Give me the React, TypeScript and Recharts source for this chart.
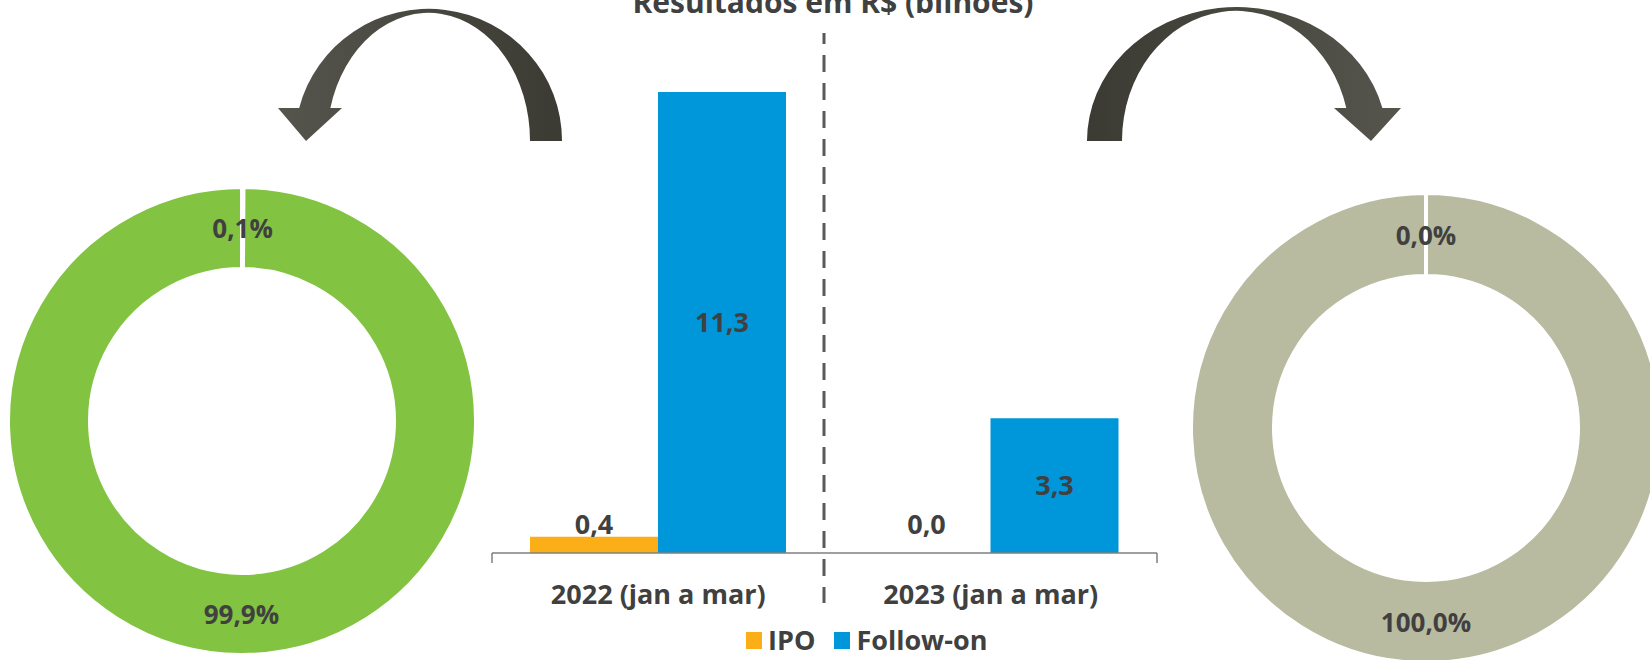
import React from 'react';
import { BarChart, Bar, XAxis, YAxis, LabelList, Legend, PieChart, Pie, Cell } from 'recharts';

// data
const categories = ['2022 (jan a mar)', '2023 (jan a mar)'];
const seriesNames = ['IPO', 'Follow-on'];
const ipoValues = [0.4, 0.0];
const followOnValues = [11.3, 3.3];
const share2022 = [0.1, 99.9]; // IPO, Follow-on (%)
const share2023 = [0.0, 100.0];

const barData = categories.map((cat, i) => ({ cat, ipo: ipoValues[i], followOn: followOnValues[i] }));
const pie2022 = seriesNames.map((name, i) => ({ name, value: share2022[i] }));
const pie2023 = seriesNames.map((name, i) => ({ name, value: share2023[i] }));

const FONT = "'Open Sans', 'Noto Sans', sans-serif";
const TEXT = '#404040';
const IPO_COLOR = '#FBAE17';
const FOLLOW_COLOR = '#0096DA';
const GREEN = '#82C341';
const KHAKI = '#B8BBA0';

const fmt = (v: number) => Number(v).toFixed(1).replace('.', ',');
const RAD = Math.PI / 180;

function donutLabel(p: any) {
  const { cx, cy, midAngle, innerRadius, outerRadius, value } = p;
  const r = (innerRadius + outerRadius) / 2;
  const x = cx + r * Math.cos(-midAngle * RAD);
  const y = cy + r * Math.sin(-midAngle * RAD);
  return (
    <text x={x} y={y} textAnchor="middle" dominantBaseline="central" fill={TEXT}
      fontSize={26} fontWeight={700} fontFamily={FONT}>
      {fmt(value)}%
    </text>
  );
}

// IPO values are drawn from the Follow-on bar's label list (the IPO bar sits right
// beside it, barGap 0), because a zero-height IPO bar gets no label of its own
function ipoLabel(p: any) {
  const vb = p.viewBox || p;
  const x = vb.x ?? p.x;
  const y = vb.y ?? p.y;
  const width = vb.width ?? p.width ?? 0;
  const height = vb.height ?? p.height ?? 0;
  return (
    <text x={x - width / 2} y={y + height - 19} textAnchor="middle" fill={TEXT}
      fontSize={27} fontWeight={700} fontFamily={FONT}>
      {fmt(p.value)}
    </text>
  );
}

function CategoryTick(p: any) {
  const { x, y, payload } = p;
  return (
    <text x={x} y={y + 41} textAnchor="middle" fill={TEXT} fontSize={27} fontWeight={700} fontFamily={FONT}>
      {payload.value}
    </text>
  );
}

function renderLegend() {
  const colors = [IPO_COLOR, FOLLOW_COLOR];
  return (
    <div style={{ display: 'flex', alignItems: 'center', fontFamily: FONT, fontWeight: 700, fontSize: 27, color: TEXT, lineHeight: '30px', whiteSpace: 'nowrap' }}>
      {seriesNames.map((n, i) => (
        <span key={n} style={{ display: 'flex', alignItems: 'center', marginRight: 19 }}>
          <span style={{ width: 16, height: 17, background: colors[i], marginRight: 6, display: 'inline-block' }} />
          {n}
        </span>
      ))}
    </div>
  );
}

export default function App() {
  return (
    <div style={{ position: 'fixed', left: 0, top: 0, width: 1650, height: 660, overflow: 'hidden', background: '#fff' }}>
      <div style={{ position: 'absolute', left: 0, top: 0 }}>
        <PieChart width={1650} height={660} margin={{ top: 0, right: 0, bottom: 0, left: 0 }}>
          <Pie data={pie2022} dataKey="value" cx={242} cy={421} innerRadius={152} outerRadius={234}
            startAngle={90} endAngle={-270} stroke="#fff" strokeWidth={4}
            label={donutLabel} labelLine={false} isAnimationActive={false}>
            {pie2022.map((d) => <Cell key={d.name} fill={GREEN} />)}
          </Pie>
          <Pie data={pie2023} dataKey="value" cx={1426} cy={428} innerRadius={152} outerRadius={235}
            startAngle={90} endAngle={-270} stroke="#fff" strokeWidth={4}
            label={donutLabel} labelLine={false} isAnimationActive={false}>
            {pie2023.map((d) => <Cell key={d.name} fill={KHAKI} />)}
          </Pie>
        </PieChart>
      </div>

      <div style={{ position: 'absolute', left: 440, top: 0 }}>
        <BarChart width={770} height={660} data={barData}
          margin={{ top: 63.4, right: 53, left: 52, bottom: 37 }}
          barCategoryGap={38} barGap={0}>
          <XAxis xAxisId="a" type="number" domain={[0, 2]} ticks={[0, 1, 2]} allowDataOverflow
            interval={0} height={10} tickSize={10} tick={() => <g />}
            axisLine={{ stroke: '#7f7f7f', strokeWidth: 1.5 }} tickLine={{ stroke: '#7f7f7f', strokeWidth: 1.5 }} />
          <XAxis xAxisId="b" dataKey="cat" axisLine={false} tickLine={false} tickSize={0} tickMargin={0}
            height={60} interval={0} tick={<CategoryTick />} />
          <YAxis hide domain={[0, 12]} />
          <Legend layout="horizontal" verticalAlign="middle" align="center" content={renderLegend}
            wrapperStyle={{ left: 306, top: 625, width: 'auto' }} />
          <Bar xAxisId="b" dataKey="ipo" name="IPO" fill={IPO_COLOR} isAnimationActive={false} />
          <Bar xAxisId="b" dataKey="followOn" name="Follow-on" fill={FOLLOW_COLOR} isAnimationActive={false}>
            <LabelList dataKey="followOn" position="center" formatter={(v: any) => fmt(v)}
              fill={TEXT} fontSize={27} fontWeight={700} fontFamily={FONT} />
            <LabelList dataKey="ipo" content={ipoLabel} />
          </Bar>
        </BarChart>
      </div>

      <svg width={1650} height={660} style={{ position: 'absolute', left: 0, top: 0, pointerEvents: 'none' }}>
        <defs>
          <linearGradient id="arrowL" x1="0" y1="0" x2="1" y2="0">
            <stop offset="0" stopColor="#55554e" />
            <stop offset="1" stopColor="#3b3b34" />
          </linearGradient>
          <linearGradient id="arrowR" x1="0" y1="0" x2="1" y2="0">
            <stop offset="0" stopColor="#3b3b34" />
            <stop offset="1" stopColor="#55554e" />
          </linearGradient>
        </defs>
        <text x={833} y={13} textAnchor="middle" fill={TEXT} fontSize={30} fontWeight={700} fontFamily={FONT}>
          Resultados em R$ (bilhões)
        </text>
        <path d="M 562 141 A 133.5 132 0 0 0 299.2 108 L 278 108 L 306 141 L 342 108 L 330.4 108 A 101.5 128 0 0 1 530 141 Z"
          fill="url(#arrowL)" />
        <path d="M 1087 141 A 150 134 0 0 1 1382.4 108 L 1401 108 L 1371 141 L 1334 108 L 1346.3 108 A 114 130 0 0 0 1122 141 Z"
          fill="url(#arrowR)" />
        <line x1={824} y1={33} x2={824} y2={603} stroke="#595959" strokeWidth={3}
          strokeDasharray="17 11" strokeDashoffset={6} />
      </svg>
    </div>
  );
}
